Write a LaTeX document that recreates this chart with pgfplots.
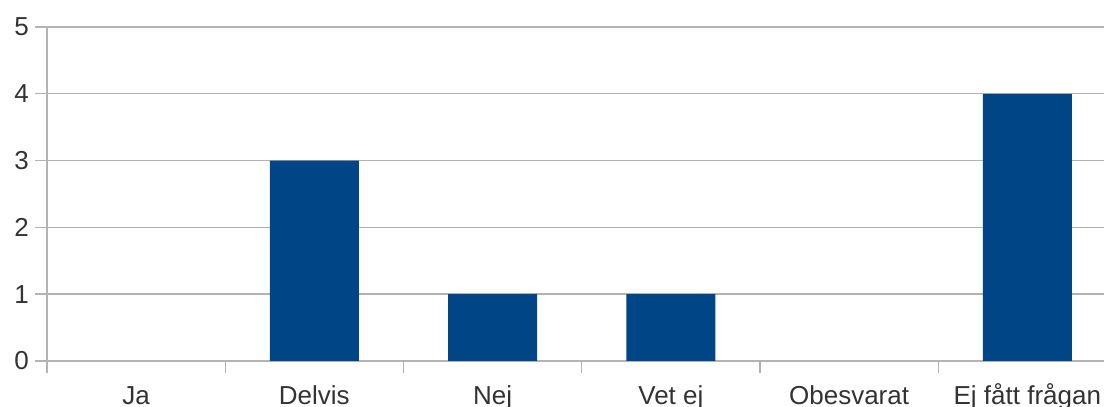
\documentclass[border=0pt]{standalone}
\usepackage{fontspec}
\setmainfont{Liberation Sans}
\usepackage{pgfplots}
\pgfplotsset{compat=1.18}
\definecolor{barblue}{HTML}{004586}
\definecolor{gridgray}{HTML}{B3B3B3}
\begin{document}
\begin{tikzpicture}
\begin{axis}[
  scale only axis,
  width=528.5pt, height=167pt,
  xmin=-0.5, xmax=5.43,
  ymin=0, ymax=5,
  axis lines=left,
  axis line style={-, draw=gridgray, line width=0.7pt},
  ybar, bar width=0.5,
  ytick={0,1,2,3,4,5},
  ymajorgrids,
  grid style={draw=gridgray, line width=0.7pt},
  xtick={-0.5,0.5,1.5,2.5,3.5,4.5},
  xticklabels={},
  extra x ticks={0,1,2,3,4,5},
  extra x tick labels={Ja,Delvis,Nej,Vet ej,Obesvarat,Ej fått frågan},
  extra x tick style={major tick length=0pt, xmajorgrids=false},
  tick align=outside,
  major tick length=6pt,
  tick style={draw=gridgray, line width=0.7pt},
  ticklabel style={font=\fontsize{13}{15}\selectfont, text=black!80},
  /pgf/number format/assume math mode=true,
  xticklabel style={anchor=base, yshift=-22pt},
  yticklabel style={anchor=east, xshift=0.5pt},
  clip=false,
]
% Ja and Obesvarat have no answers (0)
\addplot[fill=barblue, draw=none] coordinates {(1,3) (2,1) (3,1) (5,4)};
\coordinate (o) at (rel axis cs:0,0);
\end{axis}
\pgfresetboundingbox
\path[use as bounding box] ([shift={(-23.5pt,-23pt)}]o) rectangle ([shift={(528.5pt,180.5pt)}]o);
\end{tikzpicture}
\end{document}
